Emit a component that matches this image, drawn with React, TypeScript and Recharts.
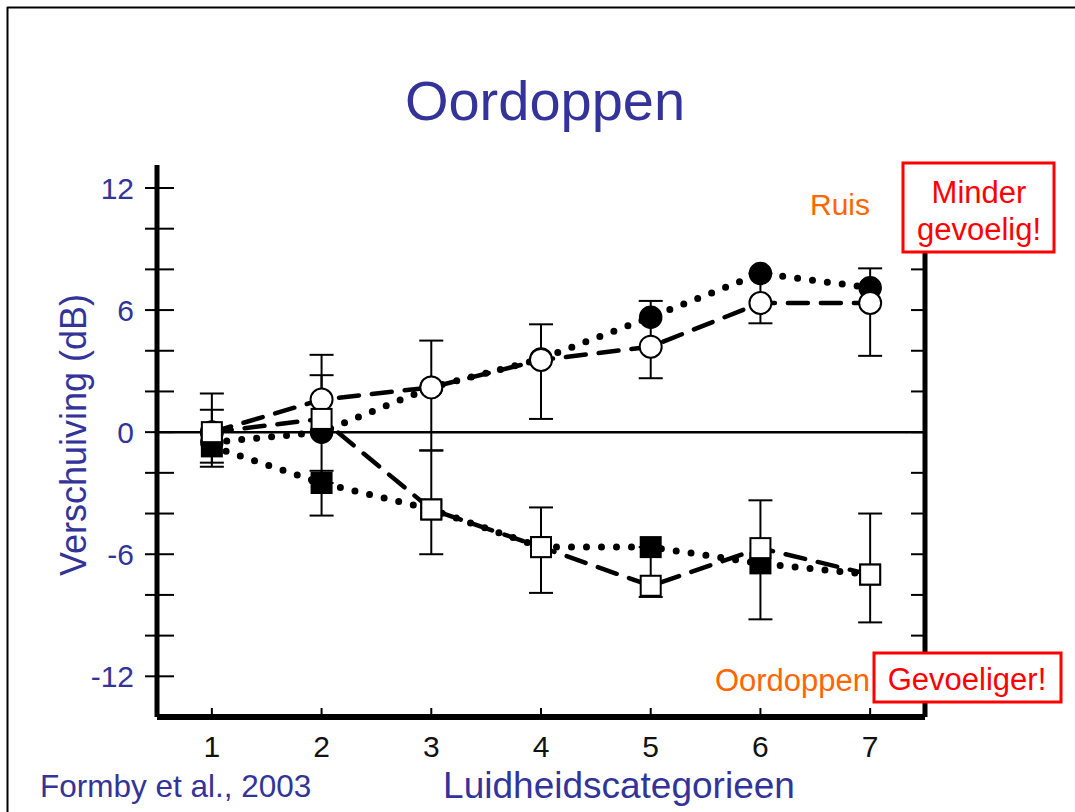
import React from "react";
import {
  ComposedChart, Line, XAxis, YAxis, ErrorBar, ReferenceLine,
} from "recharts";

// luidheidscategorie 1..7
const categories = [1, 2, 3, 4, 5, 6, 7];

// gevulde cirkels (stippellijn) en open cirkels (streeplijn): ruis
const ruisFilled = [-0.5, 0, 2.2, 3.6, 5.65, 7.8, 7.1];
const ruisOpen = [0, 1.6, 2.2, 3.55, 4.2, 6.35, 6.35];
// gevulde en open vierkanten: oordoppen
const plugFilled = [-0.7, -2.5, -3.8, -5.65, -5.65, -6.45, -7.0];
const plugOpen = [0, 0.65, -3.8, -5.65, -7.55, -5.7, -7.0];

// foutbalken als [omlaag, omhoog]
const ruisFilledErr = [null, [2.5, 2.8], null, null, null, null, null];
const ruisOpenErr = [[1.7, 1.9], [1.6, 2.2], [3.1, 2.3], [2.9, 1.75], [1.55, 2.25], [1.0, 1.45], [2.6, 1.7]];
const plugFilledErr = [[0.8, 1.8], [1.6, 0.6], [2.2, 2.9], [2.25, 1.95], null, [2.75, 3.1], [2.35, 3.0]];
const plugOpenErr = [null, null, null, null, [0.55, 1.9], null, null];

const yTicks = [-12, -10, -8, -6, -4, -2, 0, 2, 4, 6, 8, 10, 12];
const yLabelTicks = [-12, -6, 0, 6, 12];

const data = categories.map((c, i) => ({
  x: c,
  a: ruisFilled[i],
  b: ruisOpen[i],
  c: plugFilled[i],
  d: plugOpen[i],
  aErr: ruisFilledErr[i] ?? undefined,
  bErr: ruisOpenErr[i] ?? undefined,
  cErr: plugFilledErr[i] ?? undefined,
  dErr: plugOpenErr[i] ?? undefined,
}));

const BLUE = "#333399";
const ORANGE = "#FF6600";
const RED = "#FF0000";
const SANS = "'Liberation Sans', Arial, sans-serif";

// eslint-disable-next-line @typescript-eslint/no-explicit-any
function LeftTick({ x, y, payload }: any) {
  const v = payload.value;
  return (
    <g>
      <line x1={x - 12} x2={x + 17} y1={y} y2={y} stroke="#000" strokeWidth={2} />
      {yLabelTicks.includes(v) && (
        <text x={x - 23} y={y} dy="0.36em" textAnchor="end" fontSize={30} fill={BLUE} fontFamily={SANS}>
          {v}
        </text>
      )}
    </g>
  );
}

// eslint-disable-next-line @typescript-eslint/no-explicit-any
function BottomTick({ x, y, payload }: any) {
  return (
    <g>
      <line x1={x} x2={x} y1={y - 9} y2={y} stroke="#000" strokeWidth={2} />
      <text x={x} y={y + 40} textAnchor="middle" fontSize={30} fill="#111"
        fontFamily="'Liberation Sans Narrow', 'Liberation Sans', Arial, sans-serif">
        {payload.value}
      </text>
    </g>
  );
}

function square(fill: string) {
  // eslint-disable-next-line @typescript-eslint/no-explicit-any
  return (props: any) => {
    const { cx, cy, index } = props;
    if (cx == null || cy == null) return <g key={`s${index}`} />;
    return (
      <rect key={`s${index}`} x={cx - 10} y={cy - 10} width={20} height={20}
        fill={fill} stroke="#000" strokeWidth={2} />
    );
  };
}

const dotted = { stroke: "#000", strokeWidth: 7, strokeDasharray: "0 15", strokeLinecap: "round" as const };
const dashed = { stroke: "#000", strokeWidth: 4.5, strokeDasharray: "20 13", strokeLinecap: "round" as const };

export default function App() {
  return (
    <div style={{ position: "absolute", left: 0, top: 0, width: 1075, height: 812, background: "#fff" }}>
      <ComposedChart width={1075} height={812} data={data}
        margin={{ top: 165, right: 150, bottom: 45, left: 77 }}>
        <XAxis dataKey="x" type="number" domain={[0.5, 7.5]} ticks={categories} allowDataOverflow
          height={50} tickSize={0} tickMargin={0} tickLine={false}
          axisLine={{ stroke: "#000", strokeWidth: 6 }} tick={<BottomTick />} />
        <YAxis yAxisId="l" type="number" domain={[-14, 13.13]} ticks={yTicks} allowDataOverflow
          width={80} tickSize={0} tickMargin={0} tickLine={false}
          axisLine={{ stroke: "#000", strokeWidth: 5 }} tick={<LeftTick />} />
        <YAxis yAxisId="r" orientation="right" mirror type="number" domain={[-14, 13.13]} ticks={yTicks}
          allowDataOverflow tickSize={14} tick={() => <g />} tickLine={{ stroke: "#000", strokeWidth: 2 }}
          axisLine={{ stroke: "#000", strokeWidth: 5 }} />
        <ReferenceLine yAxisId="l" y={0} stroke="#000" strokeWidth={2.5} />

        <Line yAxisId="l" dataKey="a" type="linear" {...dotted} isAnimationActive={false} activeDot={false}
          dot={{ r: 11, fill: "#000", stroke: "#000", strokeWidth: 1.5, strokeDasharray: "none" }}>
          <ErrorBar dataKey="aErr" direction="y" width={12} stroke="#000" strokeWidth={2} />
        </Line>
        <Line yAxisId="l" dataKey="c" type="linear" {...dotted} isAnimationActive={false} activeDot={false}
          dot={square("#000")}>
          <ErrorBar dataKey="cErr" direction="y" width={12} stroke="#000" strokeWidth={2} />
        </Line>
        <Line yAxisId="l" dataKey="b" type="linear" {...dashed} isAnimationActive={false} activeDot={false}
          dot={{ r: 11, fill: "#fff", stroke: "#000", strokeWidth: 2, strokeDasharray: "none" }}>
          <ErrorBar dataKey="bErr" direction="y" width={12} stroke="#000" strokeWidth={2} />
        </Line>
        <Line yAxisId="l" dataKey="d" type="linear" {...dashed} isAnimationActive={false} activeDot={false}
          dot={square("#fff")}>
          <ErrorBar dataKey="dErr" direction="y" width={12} stroke="#000" strokeWidth={2} />
        </Line>
      </ComposedChart>

      <svg width={1075} height={812} style={{ position: "absolute", left: 0, top: 0, pointerEvents: "none" }}
        fontFamily={SANS}>
        <line x1={7} y1={7.5} x2={1075} y2={7.5} stroke="#000" strokeWidth={2} />
        <line x1={7.5} y1={7} x2={7.5} y2={812} stroke="#000" strokeWidth={2} />

        <text x={545} y={120} textAnchor="middle" fontSize={56} fill={BLUE}>Oordoppen</text>
        <text transform="translate(86,435) rotate(-90)" textAnchor="middle" fontSize={36} fill={BLUE}>
          Verschuiving (dB)
        </text>
        <text x={40} y={797} fontSize={31.5} fill={BLUE}>Formby et al., 2003</text>
        <text x={619} y={798} textAnchor="middle" fontSize={37} fill={BLUE}>Luidheidscategorieen</text>

        <text x={810} y={215} fontSize={30} fill={ORANGE}>Ruis</text>
        <rect x={903} y={163} width={151} height={89} fill="#fff" stroke={RED} strokeWidth={3} />
        <text x={979} y={203} textAnchor="middle" fontSize={31} fill={RED}>Minder</text>
        <text x={979} y={240} textAnchor="middle" fontSize={31} fill={RED}>gevoelig!</text>

        <text x={870} y={691} textAnchor="end" fontSize={31} fill={ORANGE}>Oordoppen</text>
        <rect x={874} y={653} width={187} height={49} fill="#fff" stroke={RED} strokeWidth={3} />
        <text x={967} y={690} textAnchor="middle" fontSize={31} fill={RED}>Gevoeliger!</text>
      </svg>
    </div>
  );
}
